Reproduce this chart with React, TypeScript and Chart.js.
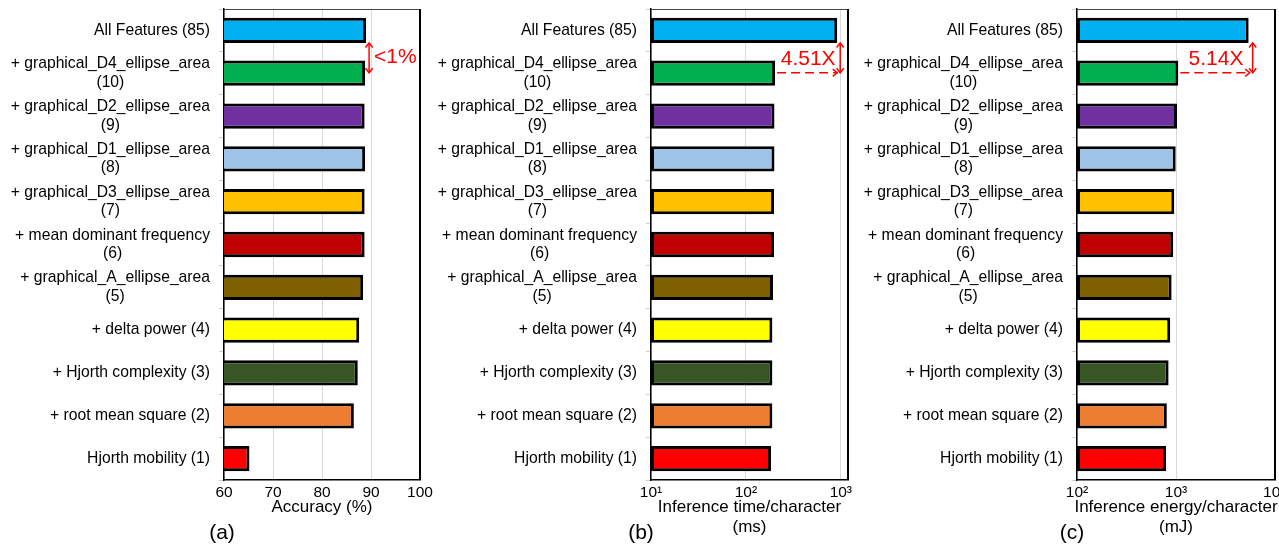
import React, { useEffect, useRef } from "react";
import { Chart, registerables } from "chart.js";

Chart.register(...registerables);

// ---------------- DATA ----------------
const categories: string[][] = [
  ["All Features (85)"],
  ["+ graphical_D4_ellipse_area", "(10)"],
  ["+ graphical_D2_ellipse_area", "(9)"],
  ["+ graphical_D1_ellipse_area", "(8)"],
  ["+ graphical_D3_ellipse_area", "(7)"],
  ["+ mean dominant frequency", "(6)"],
  ["+ graphical_A_ellipse_area", "(5)"],
  ["+ delta power (4)"],
  ["+ Hjorth complexity (3)"],
  ["+ root mean square (2)"],
  ["Hjorth mobility (1)"],
];

const accuracy = [89.0, 88.8, 88.7, 88.8, 88.7, 88.7, 88.4, 87.6, 87.3, 86.5, 65.2];
const inferenceTime = [916, 203, 200, 200, 198, 198, 193, 190, 190, 190, 184];
const inferenceEnergy = [5420, 1055, 1024, 993, 961, 938, 903, 874, 842, 808, 795];

const barColors = [
  "#00B0F0",
  "#00B050",
  "#7030A0",
  "#9DC3E6",
  "#FFC000",
  "#C00000",
  "#7F6000",
  "#FFFF00",
  "#375623",
  "#ED7D31",
  "#FF0000",
];

const accuracyTicks = [60, 70, 80, 90, 100];
const accuracyTickLabels = ["60", "70", "80", "90", "100"];
const timeTicks = [10, 100, 1000];
const timeTickLabels = ["10\u00B9", "10\u00B2", "10\u00B3"];
const energyTicks = [100, 1000, 10000];
const energyTickLabels = ["10\u00B2", "10\u00B3", "10\u2074"];

const accuracyTitle = ["Accuracy (%)"];
const timeTitle = ["Inference time/character", "(ms)"];
const energyTitle = ["Inference energy/character", "(mJ)"];

// ---------------- LAYOUT ----------------
const FONT = "'Liberation Sans', Arial, Helvetica, sans-serif";
const H = 545;
const PLOT_TOP = 9;
const PLOT_BOTTOM = 480;
const PLOT_LEFT = 224;
const LABEL_RIGHT = 210;
const LABEL_LINE_H = 18.5;

type PanelDef = {
  left: number;
  width: number;
  padRight: number;
  values: number[];
  scaleType: "linear" | "logarithmic";
  min: number;
  max: number;
  ticks: number[];
  tickLabels: string[];
  title: string[];
  letter: string;
  letterX: number;
  annotation: string;
  kind: "pct" | "ratio";
  arrowGap: number;
};

const panels: PanelDef[] = [
  {
    left: 0, width: 440, padRight: 20, values: accuracy, scaleType: "linear",
    min: 60, max: 100, ticks: accuracyTicks, tickLabels: accuracyTickLabels,
    title: accuracyTitle, letter: "(a)", letterX: 222, annotation: "<1%", kind: "pct", arrowGap: 3,
  },
  {
    left: 427, width: 440, padRight: 19, values: inferenceTime, scaleType: "logarithmic",
    min: 10, max: 1190, ticks: timeTicks, tickLabels: timeTickLabels,
    title: timeTitle, letter: "(b)", letterX: 214, annotation: "4.51X", kind: "ratio", arrowGap: 3,
  },
  {
    left: 853, width: 426, padRight: 4, values: inferenceEnergy, scaleType: "logarithmic",
    min: 100, max: 10000, ticks: energyTicks, tickLabels: energyTickLabels,
    title: energyTitle, letter: "(c)", letterX: 219, annotation: "5.14X", kind: "ratio", arrowGap: 4,
  },
];

function arrowHead(ctx: CanvasRenderingContext2D, x: number, y: number, dir: "up" | "down" | "right") {
  const s = 4.5;
  ctx.beginPath();
  if (dir === "up") {
    ctx.moveTo(x - s * 0.8, y + s);
    ctx.lineTo(x, y);
    ctx.lineTo(x + s * 0.8, y + s);
  } else if (dir === "down") {
    ctx.moveTo(x - s * 0.8, y - s);
    ctx.lineTo(x, y);
    ctx.lineTo(x + s * 0.8, y - s);
  } else {
    ctx.moveTo(x - s, y - s * 0.8);
    ctx.lineTo(x, y);
    ctx.lineTo(x - s, y + s * 0.8);
  }
  ctx.stroke();
}

function makePlugin(p: PanelDef) {
  return {
    id: "customDecor",
    afterDraw(chart: any) {
      const ctx: CanvasRenderingContext2D = chart.ctx;
      const { left, right, top, bottom } = chart.chartArea;
      const yScale = chart.scales.y;
      ctx.save();

      // frame top/right
      ctx.strokeStyle = "#444";
      ctx.lineWidth = 1;
      ctx.beginPath();
      ctx.moveTo(left, top + 0.5);
      ctx.lineTo(right, top + 0.5);
      ctx.stroke();
      ctx.strokeStyle = "#000";
      ctx.lineWidth = 2;
      ctx.beginPath();
      ctx.moveTo(right, top);
      ctx.lineTo(right, bottom);
      ctx.stroke();

      // category labels (right-aligned block, centered lines)
      ctx.fillStyle = "#000";
      ctx.font = `15.7px ${FONT}`;
      ctx.textAlign = "center";
      ctx.textBaseline = "middle";
      categories.forEach((lines, i) => {
        const y = yScale.getPixelForTick(i);
        const w = Math.max(...lines.map((l) => ctx.measureText(l).width));
        const cx = LABEL_RIGHT - w / 2;
        lines.forEach((l, j) => {
          ctx.fillText(l, cx, y + (j - (lines.length - 1) / 2) * LABEL_LINE_H);
        });
      });

      // axis title
      ctx.font = `17px ${FONT}`;
      const tx = (left + right) / 2;
      p.title.forEach((t, j) => ctx.fillText(t, tx, 507 + j * 20));

      // panel letter
      ctx.font = `21px ${FONT}`;
      ctx.fillText(p.letter, p.letterX, 533);

      // annotation
      const meta = chart.getDatasetMeta(0);
      const b0 = meta.data[0].getProps(["x", "y", "height"], true);
      const b1 = meta.data[1].getProps(["x", "y", "height"], true);
      const ax = b0.x + p.arrowGap;
      const y1 = b0.y + b0.height / 2;
      const y2 = b1.y - 0.5;
      ctx.strokeStyle = "#FF0000";
      ctx.fillStyle = "#FF0000";
      ctx.lineWidth = 1.5;
      ctx.beginPath();
      ctx.moveTo(ax, y1);
      ctx.lineTo(ax, y2);
      ctx.stroke();
      arrowHead(ctx, ax, y1, "up");
      arrowHead(ctx, ax, y2, "down");
      ctx.font = `21px ${FONT}`;
      if (p.kind === "pct") {
        ctx.textAlign = "left";
        ctx.fillText(p.annotation, ax + 5, (y1 + y2) / 2 - 1);
      } else {
        const hx0 = b1.x + 2;
        const hx1 = ax - 3;
        ctx.setLineDash([9, 5]);
        ctx.beginPath();
        ctx.moveTo(hx0, y2);
        ctx.lineTo(hx1, y2);
        ctx.stroke();
        ctx.setLineDash([]);
        arrowHead(ctx, hx1, y2, "right");
        ctx.textAlign = "center";
        ctx.fillText(p.annotation, (hx0 + hx1) / 2 + 1, (y1 + y2) / 2 + 1);
      }
      ctx.restore();
    },
  };
}

function Panel({ p }: { p: PanelDef }) {
  const ref = useRef<HTMLCanvasElement | null>(null);
  useEffect(() => {
    if (!ref.current) return;
    const chart = new Chart(ref.current, {
      type: "bar",
      data: {
        labels: categories.map((c) => c.join(" ")),
        datasets: [
          {
            data: p.values,
            backgroundColor: barColors,
            borderColor: "#000",
            borderWidth: 3,
            borderSkipped: false,
            barPercentage: 0.59,
            categoryPercentage: 1,
          } as any,
        ],
      },
      options: {
        indexAxis: "y",
        responsive: false,
        animation: false,
        events: [],
        layout: { padding: { top: PLOT_TOP, right: p.padRight, left: 0, bottom: 0 } },
        plugins: { legend: { display: false }, tooltip: { enabled: false }, title: { display: false } },
        scales: {
          y: {
            type: "category",
            position: "left",
            offset: true,
            ticks: { display: false },
            grid: { offset: true, drawOnChartArea: false, drawTicks: true, tickLength: 5, color: "#d0d0d0", lineWidth: 1 },
            border: { display: true, color: "#000", width: 1.5 },
            afterFit: (s: any) => {
              s.width = PLOT_LEFT;
              s.paddingTop = 0;
              s.paddingBottom = 0;
            },
          },
          x: {
            type: p.scaleType,
            position: "bottom",
            min: p.min,
            max: p.max,
            ticks: {
              font: { family: FONT, size: 15.5 },
              color: "#000",
              padding: 3,
              autoSkip: false,
              maxRotation: 0,
              callback: (_v: any, i: number) => p.tickLabels[i],
            },
            grid: { color: "#d9d9d9", drawTicks: false, lineWidth: 1 },
            border: { display: true, color: "#000", width: 1.5 },
            afterBuildTicks: (s: any) => {
              s.ticks = p.ticks.map((v) => ({ value: v }));
            },
            afterFit: (s: any) => {
              s.height = H - PLOT_BOTTOM;
              s.paddingLeft = 0;
              s.paddingRight = 0;
            },
          } as any,
        },
      } as any,
      plugins: [makePlugin(p)],
    });
    return () => chart.destroy();
  }, [p]);
  return (
    <canvas
      ref={ref}
      width={p.width}
      height={H}
      style={{ position: "absolute", left: p.left, top: 0, width: p.width, height: H }}
    />
  );
}

export default function App() {
  return (
    <div
      style={{
        position: "absolute",
        left: 0,
        top: 0,
        width: 1279,
        height: H,
        overflow: "hidden",
        background: "#fff",
      }}
    >
      {panels.map((p, i) => (
        <Panel key={i} p={p} />
      ))}
    </div>
  );
}
